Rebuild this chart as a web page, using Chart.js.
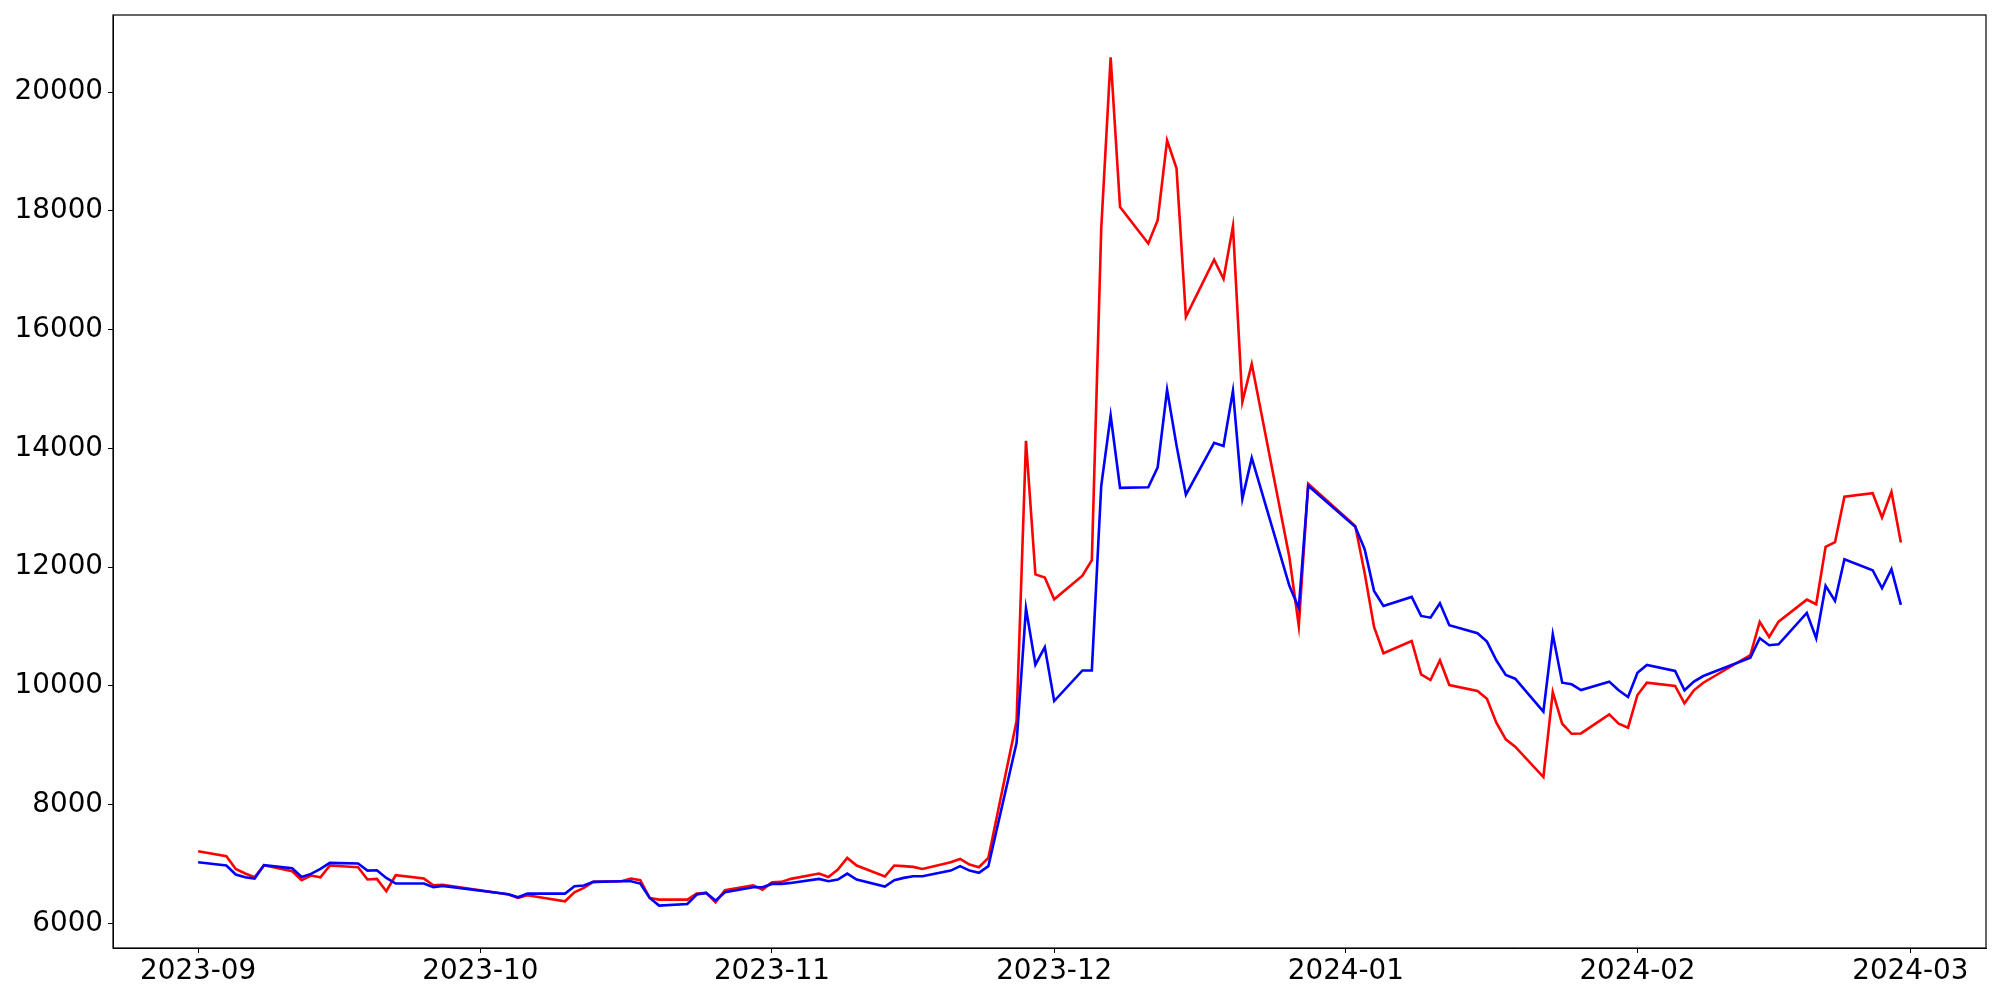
<!DOCTYPE html>
<html>
<head>
<meta charset="utf-8">
<script src="https://cdn.jsdelivr.net/npm/chart.js@4.4.0/dist/chart.umd.min.js"></script>
<style>
  html, body { margin: 0; padding: 0; background: #fff; }
</style>
</head>
<body>
<canvas id="grafico" width="2000" height="1000"></canvas>
<script>
// Trading days (weekdays, market holidays left out)
const dates = [
  '2023-09-01','2023-09-04','2023-09-05','2023-09-06','2023-09-07','2023-09-08',
  '2023-09-11','2023-09-12','2023-09-13','2023-09-14','2023-09-15',
  '2023-09-18','2023-09-19','2023-09-20','2023-09-21','2023-09-22',
  '2023-09-25','2023-09-26','2023-09-27',
  '2023-10-04','2023-10-05','2023-10-06','2023-10-10','2023-10-11','2023-10-12','2023-10-13',
  '2023-10-16','2023-10-17','2023-10-18','2023-10-19','2023-10-20',
  '2023-10-23','2023-10-24','2023-10-25','2023-10-26','2023-10-27','2023-10-30','2023-10-31',
  '2023-11-01','2023-11-02','2023-11-03','2023-11-06','2023-11-07','2023-11-08','2023-11-09','2023-11-10',
  '2023-11-13','2023-11-14','2023-11-15','2023-11-16','2023-11-17',
  '2023-11-20','2023-11-21','2023-11-22','2023-11-23','2023-11-24',
  '2023-11-27','2023-11-28','2023-11-29','2023-11-30',
  '2023-12-01','2023-12-04','2023-12-05','2023-12-06','2023-12-07','2023-12-08',
  '2023-12-11','2023-12-12','2023-12-13','2023-12-14','2023-12-15',
  '2023-12-18','2023-12-19','2023-12-20','2023-12-21','2023-12-22',
  '2023-12-26','2023-12-27','2023-12-28',
  '2024-01-02','2024-01-03','2024-01-04','2024-01-05',
  '2024-01-08','2024-01-09','2024-01-10','2024-01-11','2024-01-12',
  '2024-01-15','2024-01-16','2024-01-17','2024-01-18','2024-01-19',
  '2024-01-22','2024-01-23','2024-01-24','2024-01-25','2024-01-26',
  '2024-01-29','2024-01-30','2024-01-31',
  '2024-02-01','2024-02-02','2024-02-05','2024-02-06','2024-02-07','2024-02-08',
  '2024-02-13','2024-02-14','2024-02-15','2024-02-16',
  '2024-02-19','2024-02-20','2024-02-21','2024-02-22','2024-02-23',
  '2024-02-26','2024-02-27','2024-02-28','2024-02-29'
];

const redValues = [
  7214, 7130, 6916, 6838, 6776, 6978, 6877, 6725, 6804, 6776, 6973, 6944, 6737, 6748, 6540, 6809, 6753, 6641, 6650,
  6484, 6427, 6472, 6371, 6523, 6596, 6697, 6708, 6753, 6725, 6427, 6399, 6399, 6500, 6511, 6354, 6556, 6641, 6567,
  6691, 6697, 6748, 6838, 6781, 6905, 7101, 6973, 6787, 6973, 6962, 6950, 6916, 7028, 7084, 6989, 6944, 7101, 9406, 14128, 11877, 11823,
  11457, 11856, 12118, 17705, 20585, 18065, 17451, 17844, 19187, 18718, 16214, 17177, 16853, 17742, 14782, 15421, 12166, 11010, 13405,
  12695, 11900, 10991, 10548, 10755, 10193, 10098, 10430, 10013, 9912, 9782, 9378, 9098, 8974, 8462, 9895, 9361, 9192, 9198, 9519, 9361, 9294,
  9845, 10052, 9997, 9705, 9924, 10052, 10519, 11075, 10823, 11081, 11452, 11374, 12341, 12420, 13184, 13246, 12835, 13268, 12413
];

const blueValues = [
  7029, 6973, 6821, 6776, 6753, 6978, 6928, 6781, 6832, 6916, 7017, 7006, 6888, 6894, 6764, 6669, 6669, 6607, 6630,
  6490, 6438, 6500, 6500, 6624, 6636, 6697, 6708, 6708, 6669, 6427, 6298, 6326, 6484, 6511, 6382, 6523, 6607, 6607,
  6663, 6663, 6680, 6748, 6708, 6737, 6838, 6737, 6619, 6725, 6765, 6793, 6793, 6888, 6962, 6888, 6849, 6962, 9040, 11305, 10355, 10651,
  9744, 10259, 10259, 13369, 14553, 13335, 13345, 13681, 14987, 14050, 13219, 14094, 14039, 14968, 13150, 13840, 11684, 11310, 13369,
  12678, 12300, 11599, 11346, 11497, 11177, 11148, 11391, 11020, 10885, 10744, 10430, 10182, 10120, 9564, 10868, 10052, 10025, 9929, 10070, 9924, 9811,
  10221, 10351, 10250, 9924, 10070, 10165, 10474, 10801, 10683, 10700, 11228, 10801, 11683, 11430, 12133, 11948, 11644, 11965, 11362
];

const monthTicks = ['2023-09-01','2023-10-01','2023-11-01','2023-12-01','2024-01-01','2024-02-01','2024-03-01'];
const yTicks = [6000, 8000, 10000, 12000, 14000, 16000, 18000, 20000];

const day0 = Date.parse(dates[0]);
const toDay = d => (Date.parse(d) - day0) / 86400000;

// matplotlib-like 5% margins
const lastDay = toDay(dates[dates.length - 1]);
const allVals = redValues.concat(blueValues);
const vMin = Math.min(...allVals), vMax = Math.max(...allVals);
const xPad = lastDay * 0.05, yPad = (vMax - vMin) * 0.05;

const tickFont = { family: 'DejaVu Sans', size: 27.8 };

// caja completa alrededor del área del gráfico
const framePlugin = {
  id: 'frame',
  afterDraw(chart) {
    const { ctx, chartArea: a } = chart;
    ctx.save();
    ctx.strokeStyle = '#000';
    ctx.lineWidth = 1.2;
    ctx.strokeRect(a.left, a.top, a.right - a.left, a.bottom - a.top);
    ctx.restore();
  }
};

const ctx = document.getElementById('grafico').getContext('2d');
const grafico = new Chart(ctx, {
  type: 'line',
  data: {
    datasets: [{
      data: dates.map((d, i) => ({ x: toDay(d), y: redValues[i] })),
      borderColor: '#ff0000',
      borderWidth: 2.6,
      pointRadius: 0,
      tension: 0,
      order: 2
    }, {
      data: dates.map((d, i) => ({ x: toDay(d), y: blueValues[i] })),
      borderColor: '#0000ff',
      borderWidth: 2.6,
      pointRadius: 0,
      tension: 0,
      order: 1
    }]
  },
  options: {
    responsive: false,
    animation: false,
    devicePixelRatio: 1,
    layout: { padding: { top: 15, right: 14, left: 0, bottom: 0 } },
    plugins: { legend: { display: false }, tooltip: { enabled: false } },
    scales: {
      x: {
        type: 'linear',
        min: -xPad,
        max: lastDay + xPad,
        afterBuildTicks: s => { s.ticks = monthTicks.map(m => ({ value: toDay(m) })); },
        afterFit: s => { s.height = 52; s.paddingLeft = 0; s.paddingRight = 0; },
        ticks: {
          autoSkip: false,
          maxRotation: 0,
          padding: 2,
          color: '#000',
          font: tickFont,
          callback: v => {
            const m = monthTicks.find(t => toDay(t) === v);
            return m ? m.slice(0, 7) : '';
          }
        },
        grid: { drawOnChartArea: false, tickLength: 5, color: '#000' },
        border: { color: '#000' }
      },
      y: {
        min: vMin - yPad,
        max: vMax + yPad,
        afterBuildTicks: s => { s.ticks = yTicks.map(v => ({ value: v })); },
        afterFit: s => { s.width = 113; s.paddingTop = 0; s.paddingBottom = 0; },
        ticks: {
          padding: 5,
          color: '#000',
          font: tickFont,
          callback: v => String(v)
        },
        grid: { drawOnChartArea: false, tickLength: 5, color: '#000' },
        border: { color: '#000' }
      }
    }
  },
  plugins: [framePlugin]
});
</script>
</body>
</html>
